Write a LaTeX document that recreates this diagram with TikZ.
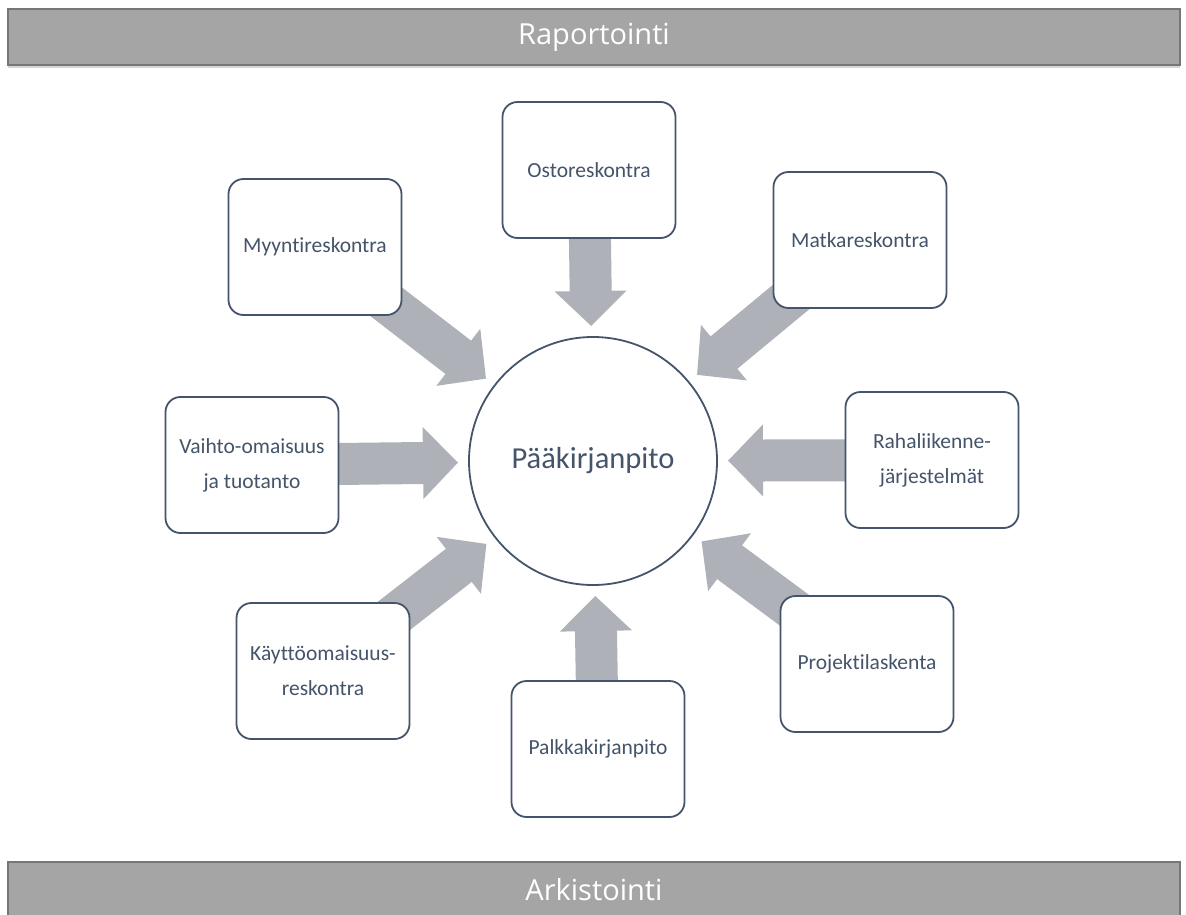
\documentclass[tikz,border=0pt]{standalone}
\usepackage{fontspec}
\setmainfont{Carlito}[Ligatures=NoCommon]
\newfontfamily\barfont{Open Sans}[Ligatures=NoCommon]
\usetikzlibrary{arrows.meta}
\definecolor{slate}{HTML}{44546A}
\definecolor{arrowgray}{HTML}{AEB1B8}
\definecolor{barfill}{HTML}{A5A5A5}
\definecolor{barline}{HTML}{767676}
\definecolor{barshadow}{HTML}{D6D6D6}
\pgfdeclarelayer{bg}
\pgfsetlayers{bg,main}
\begin{document}
\begin{tikzpicture}[x=1pt,y=-1pt,
 bar/.style={draw=barline,line width=2pt,fill=barfill,minimum width=1172pt,minimum height=56pt,inner sep=0pt,text=white,font=\barfont\fontsize{29}{32}\selectfont},
 srcbox/.style={draw=slate,line width=1.8pt,fill=white,rounded corners=15pt,minimum width=173pt,minimum height=136pt,inner sep=2pt,text=slate,font=\fontsize{21.5}{35}\selectfont,align=center},
 hub/.style={circle,draw=slate,line width=1.8pt,fill=white,minimum size=248pt,inner sep=0pt,text=slate,font=\fontsize{30.5}{36}\selectfont},
 flow/.style={draw=arrowgray,line width=42pt,-{Triangle[width=70pt,length=35pt]},shorten >=135pt}
]
\useasboundingbox (0,0) rectangle (1186,915);
% bars
\fill[barshadow] (8,64) rectangle (1180,68);
\node[bar] (raportointi) at (594,37) {Raportointi};
\node[bar] (arkistointi) at (594,890) {Arkistointi};
% hub
\node[hub] (hub) at (593,461) {Pääkirjanpito};
% source boxes
\node[srcbox] (osto) at (589,170) {Ostoreskontra};
\node[srcbox] (myynti) at (315,247) {Myyntireskontra};
\node[srcbox] (matka) at (860,240) {Matkareskontra};
\node[srcbox] (vaihto) at (252,465) {Vaihto-omaisuus\\ja tuotanto};
\node[srcbox] (raha) at (932,460) {Rahaliikenne-\\järjestelmät};
\node[srcbox] (kaytto) at (323,671) {Käyttöomaisuus-\\reskontra};
\node[srcbox] (palkka) at (598,749) {Palkkakirjanpito};
\node[srcbox] (projekti) at (867,664) {Projektilaskenta};
% arrows
\begin{pgfonlayer}{bg}
\foreach \src in {osto,myynti,matka,vaihto,raha,kaytto,palkka,projekti}
  \draw[flow] (\src.center) -- (hub.center);
\end{pgfonlayer}
\end{tikzpicture}
\end{document}
